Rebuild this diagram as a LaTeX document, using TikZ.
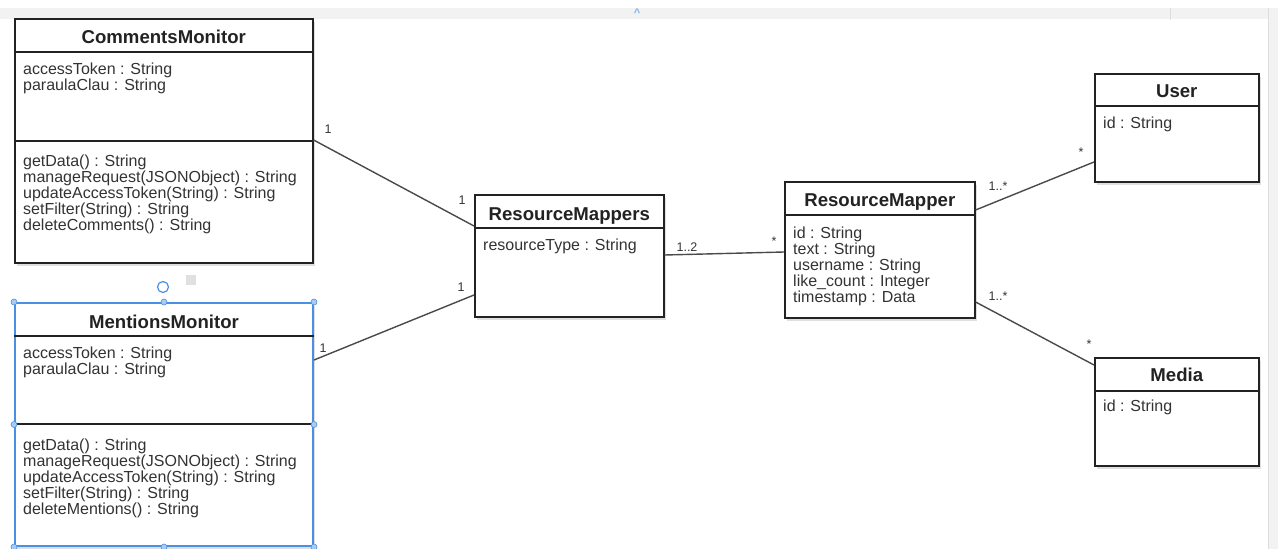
\documentclass[tikz,border=0pt]{standalone}
\usepackage{fontspec}
\setmainfont{Liberation Sans}
\usetikzlibrary{shadows,calc}
\definecolor{ink}{HTML}{222222}
\definecolor{txt}{HTML}{333333}
\definecolor{wire}{HTML}{4A4A4A}
\definecolor{selblue}{HTML}{4A90E2}
\definecolor{handlefill}{HTML}{A9CBF2}
\definecolor{uigray}{HTML}{F2F2F2}
\definecolor{uiline}{HTML}{DDDDDD}
\tikzset{
  classbox/.style={draw=ink, line width=1.6pt, fill=white, anchor=north west, inner sep=0pt,
    drop shadow={shadow xshift=2pt, shadow yshift=-3pt, opacity=0.25}},
  divider/.style={draw=ink, line width=1.2pt},
  ctitle/.style={font=\fontsize{18.6}{18.6}\selectfont\bfseries, text=ink, anchor=base, inner sep=0pt},
  attr/.style={font=\fontsize{16}{16}\selectfont, text=txt, anchor=base west, inner sep=0pt},
  assoc/.style={draw=wire, line width=1.4pt},
  mult/.style={font=\fontsize{12.5}{12.5}\selectfont, text=txt, inner sep=0pt},
  handledot/.style={circle, fill=handlefill, draw=selblue, line width=0.6pt, minimum size=6pt, inner sep=0pt},
}
\newcommand{\classlines}[4]{%
  \foreach \t [count=\i, evaluate=\i as \dy using #2+16*(\i-1)] in {#3}
    \node[attr] (#1-#4\i) at ([xshift=9pt,yshift=-\dy pt]#1.north west) {\t};}
\newcommand{\classdiv}[2]{%
  \draw[divider] ([yshift=-#2pt]#1.north west) -- ([yshift=-#2pt]#1.north east);}
\begin{document}
\begin{tikzpicture}[x=1pt,y=-1pt]
\useasboundingbox (0,0) rectangle (1278,549);
\fill[white] (0,0) rectangle (1278,549);
% editor chrome
\fill[uigray] (0,8) rectangle (1268,19);
\fill[uigray] (1268,8) rectangle (1278,549);
\draw[uiline, line width=0.6pt] (1170,8) -- (1170,20);
\draw[uiline, line width=0.6pt] (1268,8) -- (1268,549);
\node[font=\fontsize{11}{11}\selectfont\bfseries, text=selblue!70, inner sep=0pt] (chev) at (637,13) {\^{}};

% CommentsMonitor
\node[classbox, minimum width=298pt, minimum height=244pt] (cm) at (14,18) {};
\node[ctitle] (cm-t) at ([yshift=-25pt]cm.north) {CommentsMonitor};
\classdiv{cm}{34}
\classdiv{cm}{123}
\classlines{cm}{56}{{accessToken : String},{paraulaClau : String}}{a}
\classlines{cm}{148}{{getData() : String},{manageRequest(JSONObject) : String},{updateAccessToken(String) : String},{setFilter(String) : String},{deleteComments() : String}}{m}

% MentionsMonitor (selected)
\node[classbox, draw=selblue, line width=2pt, minimum width=298pt, minimum height=243pt] (mm) at (14,302) {};
\node[ctitle] (mm-t) at ([yshift=-26pt]mm.north) {MentionsMonitor};
\classdiv{mm}{34}
\classdiv{mm}{122}
\classlines{mm}{56}{{accessToken : String},{paraulaClau : String}}{a}
\classlines{mm}{148}{{getData() : String},{manageRequest(JSONObject) : String},{updateAccessToken(String) : String},{setFilter(String) : String},{deleteMentions() : String}}{m}
\foreach \a [count=\k] in {north west,north,north east,east,south east,south,south west,west}
  \node[handledot] (mmh\k) at (mm.\a) {};
\node[circle, draw=selblue, line width=1.2pt, minimum size=11pt, inner sep=0pt, fill=white] (rot) at (163,287) {};
\node[fill=black!12, minimum size=10pt, inner sep=0pt] (selsq) at (191,280) {};

% ResourceMappers
\node[classbox, minimum width=189pt, minimum height=122pt] (rms) at (474,194) {};
\node[ctitle] (rms-t) at ([yshift=-26pt]rms.north) {ResourceMappers};
\classdiv{rms}{34}
\classlines{rms}{56}{{resourceType : String}}{a}

% ResourceMapper
\node[classbox, minimum width=190pt, minimum height=136pt] (rm) at (784,181) {};
\node[ctitle] (rm-t) at ([yshift=-25pt]rm.north) {ResourceMapper};
\classdiv{rm}{34}
\classlines{rm}{57}{{id : String},{text : String},{username : String},{like\_count : Integer},{timestamp : Data}}{a}

% User
\node[classbox, minimum width=164pt, minimum height=108pt] (user) at (1094,73) {};
\node[ctitle] (user-t) at ([yshift=-24pt]user.north) {User};
\classdiv{user}{33}
\classlines{user}{55}{{id : String}}{a}

% Media
\node[classbox, minimum width=164pt, minimum height=108pt] (media) at (1094,357) {};
\node[ctitle] (media-t) at ([yshift=-24pt]media.north) {Media};
\classdiv{media}{34}
\classlines{media}{54}{{id : String}}{a}

% associations
\draw[assoc] ([yshift=-122pt]cm.north east) -- ([yshift=-32pt]rms.north west);
\draw[assoc] ([yshift=-58pt]mm.north east) -- ([yshift=-101pt]rms.north west);
\draw[assoc] ([yshift=-61pt]rms.north east) -- ([yshift=-71pt]rm.north west);
\draw[assoc] ([yshift=-29pt]rm.north east) -- ([yshift=-89pt]user.north west);
\draw[assoc] ([yshift=-121pt]rm.north east) -- ([yshift=-8pt]media.north west);

% multiplicities
\node[mult] (m1) at (328,129) {1};
\node[mult] (m2) at (462,200) {1};
\node[mult] (m3) at (461,287) {1};
\node[mult] (m4) at (323,348) {1};
\node[mult] (m5) at (687,247) {1..2};
\node[mult] (m6) at (774,241) {*};
\node[mult] (m7) at (998,186) {1..*};
\node[mult] (m8) at (1081,152) {*};
\node[mult] (m9) at (998,296) {1..*};
\node[mult] (m10) at (1089,344) {*};
\end{tikzpicture}
\end{document}
